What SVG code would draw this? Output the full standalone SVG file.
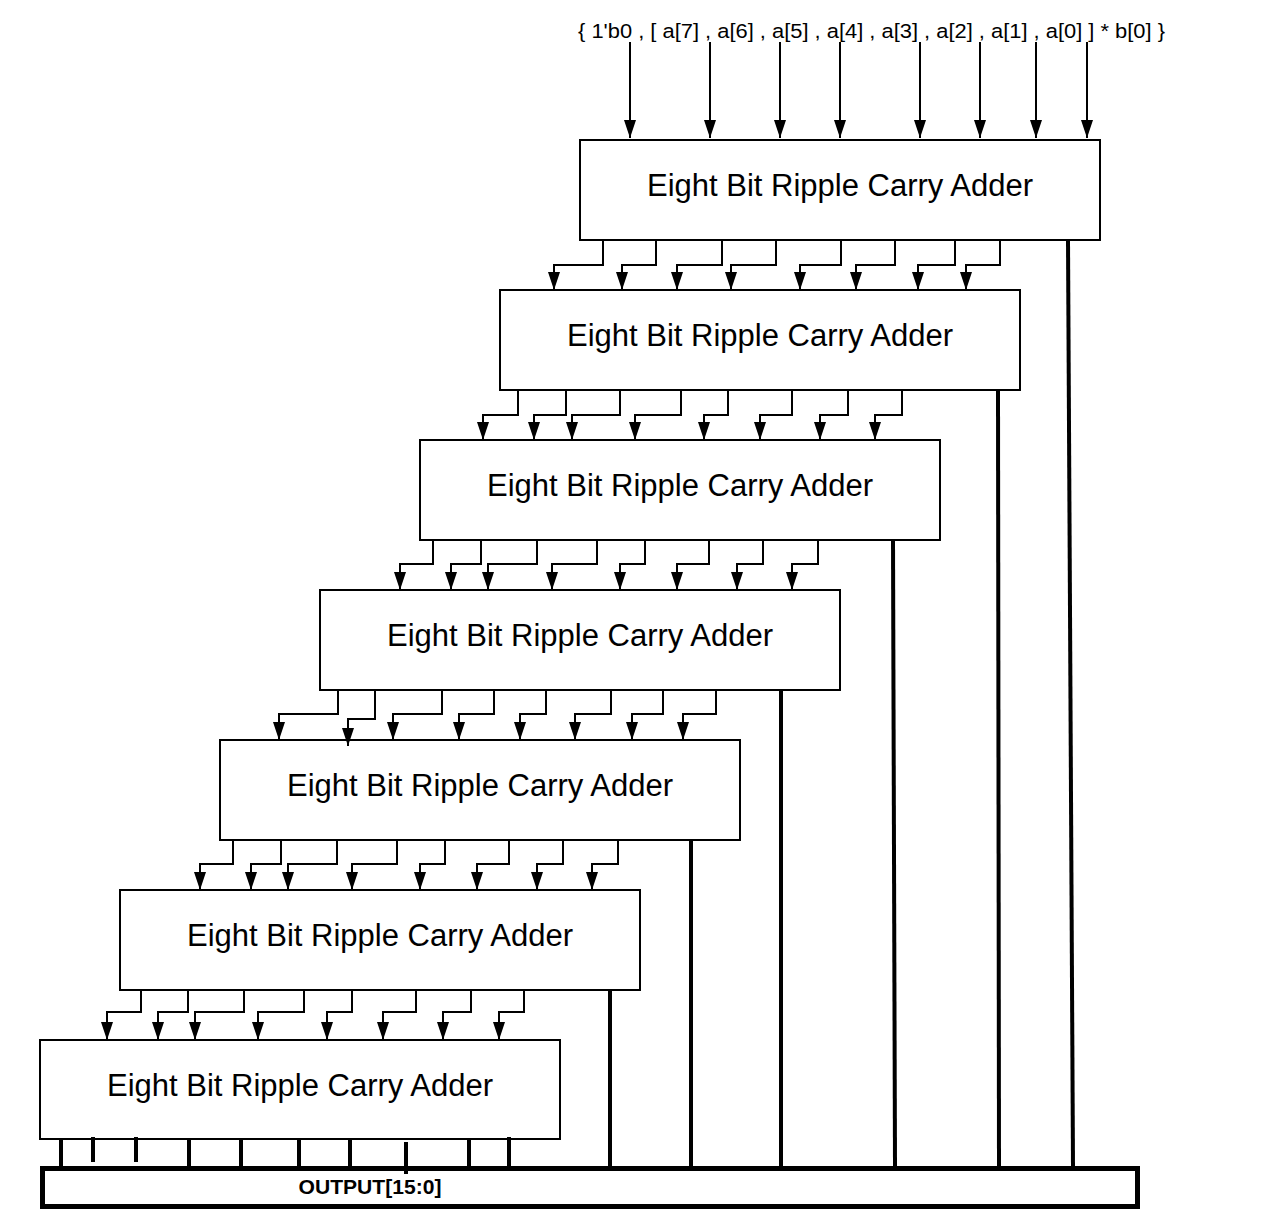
<svg xmlns="http://www.w3.org/2000/svg" width="1275" height="1224" viewBox="0 0 1275 1224">
<style>
.box{fill:#fff;stroke:#000;stroke-width:2}
.lbl{font-family:"Liberation Sans",Arial,sans-serif;font-size:31px;fill:#000;text-anchor:middle}
.w{fill:none;stroke:#000;stroke-width:2}
.t{fill:none;stroke:#000;stroke-width:4}
</style>
<defs>
<marker id="ah" markerUnits="userSpaceOnUse" viewBox="0 -6 18 12" refX="18" refY="0" markerWidth="18" markerHeight="12" orient="auto">
<path d="M0,-6 L18,0 L0,6 z" fill="#000"/>
</marker>
</defs>
<rect width="1275" height="1224" fill="#fff"/>
<text x="578" y="38" font-family="'Liberation Sans',Arial,sans-serif" font-size="20.5" textLength="587" lengthAdjust="spacingAndGlyphs">{ 1'b0 , [ a[7] , a[6] , a[5] , a[4] , a[3] , a[2] , a[1] , a[0] ] * b[0] }</text>
<g id="adder1"><rect class="box" x="580" y="140" width="520" height="100"/><text class="lbl" x="840" y="196">Eight Bit Ripple Carry Adder</text></g>
<g id="adder2"><rect class="box" x="500" y="290" width="520" height="100"/><text class="lbl" x="760" y="346">Eight Bit Ripple Carry Adder</text></g>
<g id="adder3"><rect class="box" x="420" y="440" width="520" height="100"/><text class="lbl" x="680" y="496">Eight Bit Ripple Carry Adder</text></g>
<g id="adder4"><rect class="box" x="320" y="590" width="520" height="100"/><text class="lbl" x="580" y="646">Eight Bit Ripple Carry Adder</text></g>
<g id="adder5"><rect class="box" x="220" y="740" width="520" height="100"/><text class="lbl" x="480" y="796">Eight Bit Ripple Carry Adder</text></g>
<g id="adder6"><rect class="box" x="120" y="890" width="520" height="100"/><text class="lbl" x="380" y="946">Eight Bit Ripple Carry Adder</text></g>
<g id="adder7"><rect class="box" x="40" y="1040" width="520" height="99"/><text class="lbl" x="300" y="1096">Eight Bit Ripple Carry Adder</text></g>
<g id="output"><rect x="42.5" y="1168.5" width="1095" height="38" fill="none" stroke="#000" stroke-width="5"/><text x="370" y="1194" font-family="'Liberation Sans',Arial,sans-serif" font-size="20" font-weight="bold" text-anchor="middle" textLength="143" lengthAdjust="spacingAndGlyphs">OUTPUT[15:0]</text></g>
<g id="connectors">
<g class="w" marker-end="url(#ah)">
<path d="M630,42V138"/><path d="M710,42V138"/><path d="M780,42V138"/><path d="M840,42V138"/><path d="M920,42V138"/><path d="M980,42V138"/><path d="M1036,42V138"/><path d="M1087,42V138"/>
<path d="M603,240V265H554V290"/><path d="M656,240V265H622V290"/><path d="M722,240V265H677V290"/><path d="M776,240V265H731V290"/><path d="M841,240V265H800V290"/><path d="M895,240V265H856V290"/><path d="M955,240V265H918V290"/><path d="M1000,240V265H966V290"/>
<path d="M518,390V415H483V440"/><path d="M566,390V415H534V440"/><path d="M620,390V415H572V440"/><path d="M681,390V415H635V440"/><path d="M728,390V415H704V440"/><path d="M792,390V415H760V440"/><path d="M848,390V415H820V440"/><path d="M902,390V415H875V440"/>
<path d="M433,540V564H400V590"/><path d="M481,540V564H451V590"/><path d="M537,540V564H488V590"/><path d="M597,540V564H552V590"/><path d="M645,540V564H620V590"/><path d="M709,540V564H677V590"/><path d="M763,540V564H737V590"/><path d="M818,540V564H792V590"/>
<path d="M338,690V714H279V740"/><path d="M375,690V719H348V746"/><path d="M442,690V714H393V740"/><path d="M494,690V714H459V740"/><path d="M546,690V714H520V740"/><path d="M611,690V714H575V740"/><path d="M663,690V714H632V740"/><path d="M716,690V714H683V740"/>
<path d="M233,840V864H200V890"/><path d="M281,840V864H251V890"/><path d="M337,840V864H288V890"/><path d="M397,840V864H352V890"/><path d="M445,840V864H420V890"/><path d="M509,840V864H477V890"/><path d="M563,840V864H537V890"/><path d="M618,840V864H592V890"/>
<path d="M141,990V1012H107V1040"/><path d="M188,990V1012H158V1040"/><path d="M244,990V1012H195V1040"/><path d="M304,990V1012H258V1040"/><path d="M352,990V1012H327V1040"/><path d="M416,990V1012H383V1040"/><path d="M471,990V1012H443V1040"/><path d="M524,990V1012H499V1040"/>
</g>
<g class="t">
<path d="M1068,240L1073,1167"/><path d="M998,390L999,1167"/><path d="M893,540L895,1167"/><path d="M781,690V1167"/><path d="M691,840V1167"/><path d="M610,990V1167"/>
<path d="M61,1139V1167"/><path d="M93,1137V1162"/><path d="M136,1137V1162"/><path d="M189,1139V1167"/><path d="M241,1139V1167"/><path d="M299,1139V1167"/><path d="M350,1139V1167"/><path d="M406,1142V1174"/><path d="M469,1139V1167"/><path d="M509,1137V1166"/>
</g>
</g>
</svg>
